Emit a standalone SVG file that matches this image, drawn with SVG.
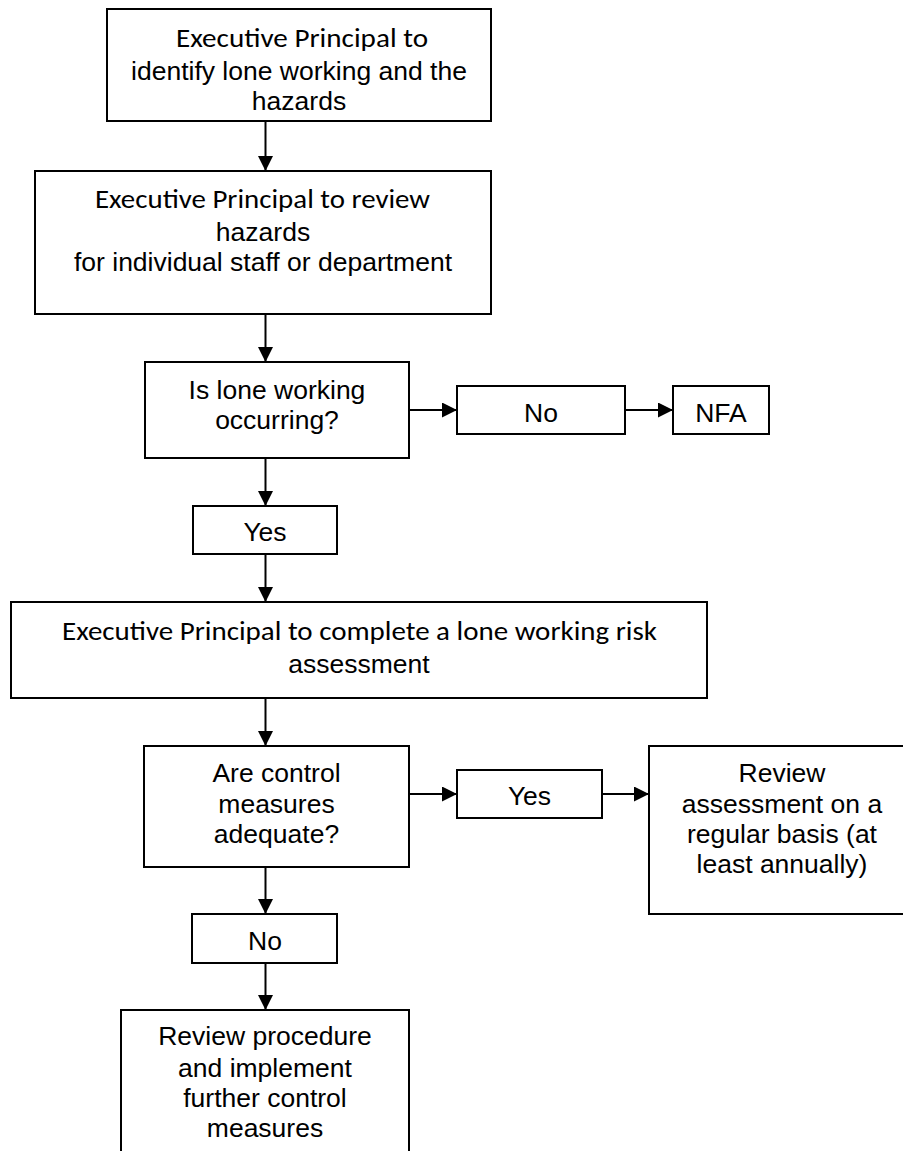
<svg xmlns="http://www.w3.org/2000/svg" width="903" height="1151" viewBox="0 0 903 1151">
<style>
.box{fill:#fff;stroke:#000;stroke-width:2}
.c{stroke:#000;stroke-width:2;fill:none;marker-end:url(#ah)}
.a{font-family:"Liberation Sans",Arial,sans-serif;font-size:26.5px;fill:#000;text-anchor:middle}
.k{font-family:Carlito,Lato,"Open Sans",sans-serif;font-size:27px;fill:#000;text-anchor:middle}
</style>
<defs>
<marker id="ah" viewBox="0 0 15 15" refX="15" refY="7.5" markerWidth="15" markerHeight="15" markerUnits="userSpaceOnUse" orient="auto">
<path d="M0,0 L15,7.5 L0,15 Z" fill="#000"/>
</marker>
</defs>
<rect width="903" height="1151" fill="#fff"/>
<g id="connectors">
<line class="c" x1="265.5" y1="121" x2="265.5" y2="171"/>
<line class="c" x1="265.5" y1="314" x2="265.5" y2="362"/>
<line class="c" x1="265.5" y1="458" x2="265.5" y2="506"/>
<line class="c" x1="265.5" y1="554" x2="265.5" y2="602"/>
<line class="c" x1="265.5" y1="698" x2="265.5" y2="746"/>
<line class="c" x1="265.5" y1="867" x2="265.5" y2="914"/>
<line class="c" x1="265.5" y1="963" x2="265.5" y2="1010"/>
<line class="c" x1="409" y1="410" x2="457" y2="410"/>
<line class="c" x1="625" y1="410" x2="673" y2="410"/>
<line class="c" x1="409" y1="794" x2="457" y2="794"/>
<line class="c" x1="602" y1="794" x2="649" y2="794"/>
</g>
<g id="identify">
<rect class="box" x="107" y="9" width="384" height="112"/>
<text class="k" x="302" y="47" textLength="252" lengthAdjust="spacingAndGlyphs">Executive Principal to</text>
<text class="a" x="299" y="80">identify lone working and the</text>
<text class="a" x="299" y="110">hazards</text>
</g>
<g id="review-hazards">
<rect class="box" x="35" y="171" width="456" height="143"/>
<text class="k" x="262.5" y="208" textLength="335" lengthAdjust="spacingAndGlyphs">Executive Principal to review</text>
<text class="a" x="263" y="241">hazards</text>
<text class="a" x="263" y="271">for individual staff or department</text>
</g>
<g id="is-lone">
<rect class="box" x="145" y="362" width="264" height="96"/>
<text class="a" x="277" y="399">Is lone working</text>
<text class="a" x="277" y="429">occurring?</text>
</g>
<g id="no1">
<rect class="box" x="457" y="386" width="168" height="48"/>
<text class="a" x="541" y="421.5">No</text>
</g>
<g id="nfa">
<rect class="box" x="673" y="386" width="96" height="48"/>
<text class="a" x="721" y="421.5">NFA</text>
</g>
<g id="yes1">
<rect class="box" x="193" y="506" width="144" height="48"/>
<text class="a" x="265" y="541">Yes</text>
</g>
<g id="assessment">
<rect class="box" x="11" y="602" width="696" height="96"/>
<text class="k" x="359.5" y="640" textLength="595" lengthAdjust="spacingAndGlyphs">Executive Principal to complete a lone working risk</text>
<text class="a" x="359" y="673">assessment</text>
</g>
<g id="adequate">
<rect class="box" x="144" y="746" width="265" height="121"/>
<text class="a" x="276.5" y="782">Are control</text>
<text class="a" x="276.5" y="813">measures</text>
<text class="a" x="276.5" y="843">adequate?</text>
</g>
<g id="yes2">
<rect class="box" x="457" y="770" width="145" height="48"/>
<text class="a" x="529.5" y="805">Yes</text>
</g>
<g id="review-regular">
<rect class="box" x="649" y="746" width="270" height="168"/>
<text class="a" x="782" y="782">Review</text>
<text class="a" x="782" y="813">assessment on a</text>
<text class="a" x="782" y="843">regular basis (at</text>
<text class="a" x="782" y="873">least annually)</text>
</g>
<g id="no2">
<rect class="box" x="192" y="914" width="145" height="49"/>
<text class="a" x="265" y="950">No</text>
</g>
<g id="review-procedure">
<rect class="box" x="121" y="1010" width="288" height="160"/>
<text class="a" x="265" y="1045">Review procedure</text>
<text class="a" x="265" y="1077">and implement</text>
<text class="a" x="265" y="1107">further control</text>
<text class="a" x="265" y="1137">measures</text>
</g>
</svg>
